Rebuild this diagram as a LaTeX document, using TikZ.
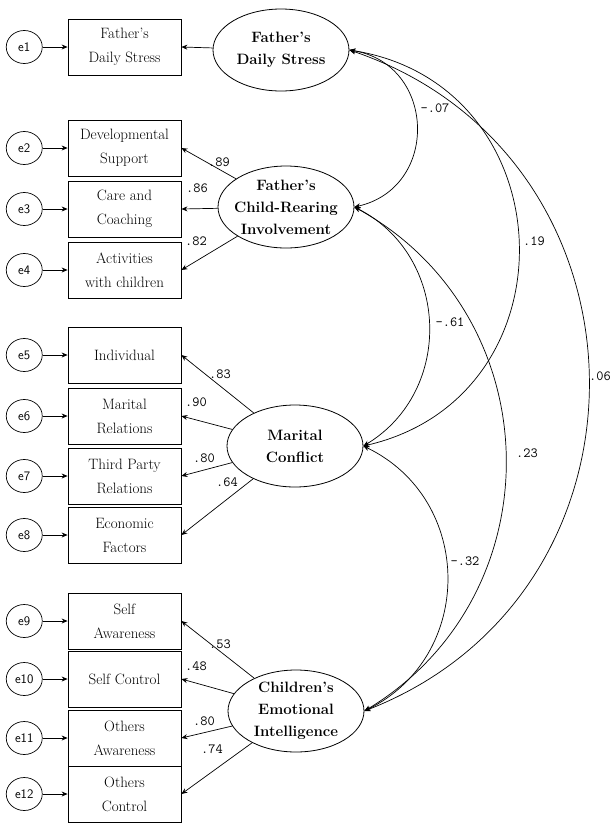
\documentclass[tikz,border=0pt]{standalone}
\usepackage{tikz}
\usetikzlibrary{shapes.geometric, arrows.meta, positioning}

\begin{document}
\begin{tikzpicture}[x=1pt, y=1pt,
    obs/.style={draw, line width=0.8pt, minimum width=113pt, minimum height=56pt, inner sep=1pt, align=center, font=\fontsize{15}{24}\selectfont},
    latent/.style={draw, ellipse, line width=0.8pt, minimum width=136pt, minimum height=82pt, inner sep=-8pt, align=center, font=\fontsize{15}{22}\selectfont\bfseries},
    err/.style={draw, ellipse, line width=0.7pt, minimum width=36pt, minimum height=33pt, inner sep=0pt, font=\sffamily\fontsize{13}{13}\selectfont},
    load/.style={-{Stealth[length=6pt, width=5pt]}, line width=0.7pt},
    cov/.style={{Stealth[length=6pt, width=5pt]}-{Stealth[length=6pt, width=5pt]}, line width=0.7pt},
    coef/.style={inner sep=0pt, font=\ttfamily\fontsize{14}{14}\selectfont}]
    \useasboundingbox (0,0) rectangle (610,-823);

    % Latent factors
    \node[latent] (f1) at (281,-50) {Father's\\Daily Stress};
    \node[latent] (f2) at (286,-207) {Father's\\Child-Rearing\\Involvement};
    \node[latent] (f3) at (295,-446) {Marital\\Conflict};
    \node[latent] (f4) at (296,-711) {Children's\\Emotional\\Intelligence};

    % Observed indicators
    \node[obs] (b1) at (124.5,-47) {Father's\\Daily Stress};
    \node[obs] (b2) at (124.5,-148) {Developmental\\Support};
    \node[obs] (b3) at (124.5,-209) {Care and\\Coaching};
    \node[obs] (b4) at (124.5,-270) {Activities\\with children};
    \node[obs] (b5) at (124.5,-355) {Individual};
    \node[obs] (b6) at (124.5,-416) {Marital\\Relations};
    \node[obs] (b7) at (124.5,-476) {Third Party\\Relations};
    \node[obs] (b8) at (124.5,-535) {Economic\\Factors};
    \node[obs] (b9) at (124.5,-621) {Self\\Awareness};
    \node[obs] (b10) at (124.5,-679) {Self Control};
    \node[obs] (b11) at (124.5,-738) {Others\\Awareness};
    \node[obs] (b12) at (124.5,-794) {Others\\Control};

    % Error terms
    \node[err, left=25pt of b1] (e1) {e1};    \draw[load] (e1) -- (b1);
    \node[err, left=25pt of b2] (e2) {e2};    \draw[load] (e2) -- (b2);
    \node[err, left=25pt of b3] (e3) {e3};    \draw[load] (e3) -- (b3);
    \node[err, left=25pt of b4] (e4) {e4};    \draw[load] (e4) -- (b4);
    \node[err, left=25pt of b5] (e5) {e5};    \draw[load] (e5) -- (b5);
    \node[err, left=25pt of b6] (e6) {e6};    \draw[load] (e6) -- (b6);
    \node[err, left=25pt of b7] (e7) {e7};    \draw[load] (e7) -- (b7);
    \node[err, left=25pt of b8] (e8) {e8};    \draw[load] (e8) -- (b8);
    \node[err, left=25pt of b9] (e9) {e9};    \draw[load] (e9) -- (b9);
    \node[err, left=25pt of b10] (e10) {e10}; \draw[load] (e10) -- (b10);
    \node[err, left=25pt of b11] (e11) {e11}; \draw[load] (e11) -- (b11);
    \node[err, left=25pt of b12] (e12) {e12}; \draw[load] (e12) -- (b12);

    % Factor loadings
    \draw[load] (f1) -- (b1.east);
    \draw[load] (f2) -- (b2.east);
    \draw[load] (f2) -- (b3.east);
    \draw[load] (f2) -- (b4.east);
    \draw[load] (f3) -- (b5.east);
    \draw[load] (f3) -- (b6.east);
    \draw[load] (f3) -- (b7.east);
    \draw[load] (f3) -- (b8.east);
    \draw[load] (f4) -- (b9.east);
    \draw[load] (f4) -- (b10.east);
    \draw[load] (f4) -- (b11.east);
    \draw[load] (f4) -- (b12.east);

    \node[coef] (l2) at (219,-162) {.89};
    \node[coef] (l3) at (197,-188) {.86};
    \node[coef] (l4) at (196,-241) {.82};
    \node[coef] (l5) at (220,-374) {.83};
    \node[coef] (l6) at (196,-402) {.90};
    \node[coef] (l7) at (204,-458) {.80};
    \node[coef] (l8) at (227,-482) {.64};
    \node[coef] (l9) at (220,-644) {.53};
    \node[coef] (l10) at (196,-666) {.48};
    \node[coef] (l11) at (204,-721) {.80};
    \node[coef] (l12) at (212,-749) {.74};

    % Correlations
    \draw[cov] (f1.east) to[bend left=79, looseness=1.43] (f2.east);
    \draw[cov] (f1.east) to[bend left=79, looseness=1.42] (f3.east);
    \draw[cov] (f1.east) to[bend left=70, looseness=1.27] (f4.east);
    \draw[cov] (f2.east) to[bend left=61, looseness=1.14] (f3.east);
    \draw[cov] (f2.east) to[bend left=60, looseness=1.14] (f4.east);
    \draw[cov] (f3.east) to[bend left=64, looseness=1.19] (f4.east);

    \node[coef] (r12) at (435,-108) {-.07};
    \node[coef] (r13) at (534,-241) {.19};
    \node[coef, anchor=west] (r14) at (589,-376) {.06};
    \node[coef] (r23) at (450,-322) {-.61};
    \node[coef] (r24) at (527,-453) {.23};
    \node[coef] (r34) at (465,-561) {-.32};

\end{tikzpicture}
\end{document}
